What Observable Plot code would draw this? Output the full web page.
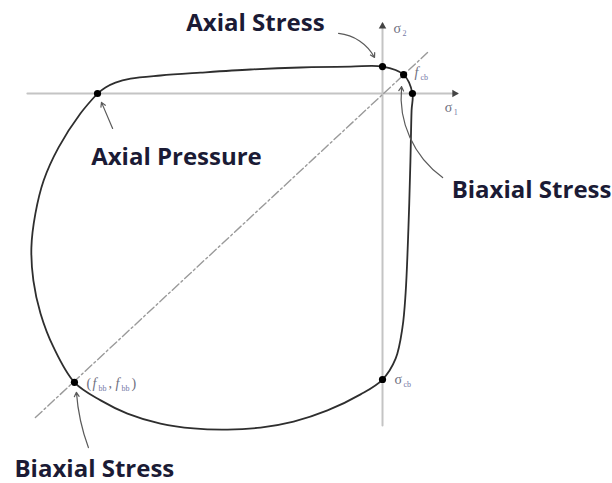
<!DOCTYPE html>
<html>
<head>
<meta charset="utf-8">
<script src="https://cdn.jsdelivr.net/npm/d3@7"></script>
<script src="https://cdn.jsdelivr.net/npm/@observablehq/plot@0.6"></script>
<style>
  html, body { margin: 0; padding: 0; background: #fff; }
  #chart svg { display: block; }
</style>
</head>
<body>
<div id="chart"></div>
<script>
// Biaxial strength envelope of concrete, stresses normalised by the uniaxial strength.
// Traced from uniaxial compression on σ1, over the tension corner, down the σ2 side,
// along the biaxial-compression edge and back up to the start.
const envS1 = [-1.000, -0.972, -0.937, -0.884, -0.779, -0.639, -0.463, -0.288, -0.112, 0.000,
               0.074, 0.105, 0.102, 0.098, 0.091, 0.081, 0.070, 0.046, 0.000,
               -0.077, -0.193, -0.312, -0.428, -0.544, -0.663, -0.779, -0.895, -0.989, -1.081,
               -1.154, -1.200, -1.225, -1.232, -1.218, -1.189, -1.137, -1.060, -1.000];
const envS2 = [0.000, 0.021, 0.038, 0.052, 0.063, 0.073, 0.084, 0.091, 0.094, 0.094,
               0.066, 0.000, -0.059, -0.234, -0.469, -0.699, -0.818, -0.927, -1.000,
               -1.052, -1.108, -1.147, -1.168, -1.175, -1.171, -1.154, -1.119, -1.073, -1.010,
               -0.888, -0.769, -0.654, -0.538, -0.420, -0.304, -0.189, -0.070, 0.000];

// Marked states: uniaxial compression, uniaxial tension, f_cb, tension on σ1, σ_cb, (f_bb, f_bb)
const keyS1 = [-1.000, 0.000, 0.074, 0.105, 0.000, -1.081];
const keyS2 = [0.000, 0.094, 0.066, 0.000, -1.000, -1.010];

// Equal-biaxial loading path
const diagS1 = [-1.218, 0.158];
const diagS2 = [-1.133, 0.143];

// Extent of the σ1 and σ2 axes
const axisS1 = [-1.246, 0.263];
const axisS2 = [-1.161, 0.245];

// Callouts
const labelText = ["Axial Stress", "Axial Pressure", "Biaxial Stress", "Biaxial Stress"];
const labelS1 = [-0.446, -0.723, 0.523, -1.011];
const labelS2 = [0.245, -0.224, -0.339, -1.315];
const pointerFromS1 = [-0.154, -0.947, 0.211, -1.032];
const pointerFromS2 = [0.210, -0.122, -0.294, -1.238];
const pointerToS1 = [-0.028, -0.986, 0.067, -1.074];
const pointerToS2 = [0.126, -0.031, 0.024, -1.045];

// Stress symbols σ with subscript
const sigmaSub = ["2", "1", "cb"];
const sigmaS1 = [0.039, 0.218, 0.042];
const sigmaS2 = [0.227, -0.049, -1.000];
// f_cb label
const fcbS1 = 0.112;
const fcbS2 = 0.073;
// (f_bb, f_bb) label
const bbS1 = -1.039;
const bbS2 = -1.014;

const envelope = envS1.map((s1, i) => ({s1, s2: envS2[i]}));
const keys = keyS1.map((s1, i) => ({s1, s2: keyS2[i]}));
const diagonal = diagS1.map((s1, i) => ({s1, s2: diagS2[i]}));
const labels = labelText.map((t, i) => ({t, s1: labelS1[i], s2: labelS2[i]}));
const pointers = pointerFromS1.map((x1, i) => ({x1, y1: pointerFromS2[i], x2: pointerToS1[i], y2: pointerToS2[i]}));
const sigmas = sigmaSub.map((sub, i) => ({sub, s1: sigmaS1[i], s2: sigmaS2[i]}));

const pointerBends = [28, 0, 30, 8];
const grey = "#6f7080";
const subColor = "#7478a6";
const serif = "'Liberation Serif', 'DejaVu Serif', serif";

// one piece of a typeset symbol label, offset in pixels from its anchor
function piece(data, text, dx, opts = {}) {
  const sub = opts.sub;
  return Plot.text(data, {
    x: "s1", y: "s2", text: () => text,
    fontFamily: serif, fontSize: sub ? 8 : 14, fontStyle: opts.italic ? "italic" : "normal",
    fill: sub ? subColor : grey, textAnchor: "start", lineAnchor: "middle",
    dx, dy: sub ? 5 : 0
  });
}
const fcb = [{s1: fcbS1, s2: fcbS2}];
const fbb = [{s1: bbS1, s2: bbS2}];

const marks = [
  // axes
  Plot.line([{s1: axisS1[0], s2: 0}, {s1: axisS1[1], s2: 0}], {x: "s1", y: "s2", stroke: "#c4c4c4", strokeWidth: 2}),
  Plot.line([{s1: 0, s2: axisS2[0]}, {s1: 0, s2: axisS2[1]}], {x: "s1", y: "s2", stroke: "#c4c4c4", strokeWidth: 2}),
  Plot.dot([{s1: axisS1[1], s2: 0}], {x: "s1", y: "s2", symbol: "triangle2", rotate: 90, r: 3.6, fill: "#444", dx: -3}),
  Plot.dot([{s1: 0, s2: axisS2[1]}], {x: "s1", y: "s2", symbol: "triangle2", r: 3.6, fill: "#444", dy: 3}),
  // equal-biaxial path
  Plot.line(diagonal, {x: "s1", y: "s2", stroke: "#9a9a9a", strokeWidth: 1.4, strokeDasharray: "9,3,2,3"}),
  // envelope
  Plot.line(envelope, {x: "s1", y: "s2", curve: "catmull-rom", stroke: "#2e2e2e", strokeWidth: 1.8}),
  Plot.dot(keys, {x: "s1", y: "s2", r: 3.6, fill: "#000"}),
  // callout pointers
  ...pointers.map((p, i) => Plot.arrow([p], {x1: "x1", y1: "y1", x2: "x2", y2: "y2", bend: pointerBends[i],
    stroke: "#5a5a5a", strokeWidth: 1.2, headLength: 6})),
  // callout text
  Plot.text(labels, {x: "s1", y: "s2", text: "t", fontFamily: "'Open Sans', sans-serif", fontWeight: 700,
    fontSize: 24, fill: "#1b1b35", textAnchor: "middle", lineAnchor: "middle"}),
  // σ symbols
  Plot.text(sigmas, {x: "s1", y: "s2", text: () => "σ", fontFamily: serif, fontSize: 14, fill: grey,
    textAnchor: "start", lineAnchor: "middle"}),
  Plot.text(sigmas, {x: "s1", y: "s2", text: "sub", fontFamily: serif, fontSize: 8, fill: subColor,
    textAnchor: "start", lineAnchor: "middle", dx: 9, dy: 5}),
  // f_cb
  piece(fcb, "f", 0, {italic: true}),
  piece(fcb, "cb", 6, {sub: true}),
  // (f_bb, f_bb)
  piece(fbb, "(", 0),
  piece(fbb, "f", 6, {italic: true}),
  piece(fbb, "bb", 12, {sub: true}),
  piece(fbb, ",", 22),
  piece(fbb, "f", 29, {italic: true}),
  piece(fbb, "bb", 35, {sub: true}),
  piece(fbb, ")", 45)
];

const chart = Plot.plot({
  width: 612,
  height: 483,
  margin: 0,
  x: {domain: [-1.3404, 0.8070], axis: null},
  y: {domain: [-1.3636, 0.3252], axis: null},
  style: {background: "#fff", overflow: "visible"},
  marks
});
document.getElementById("chart").append(chart);
</script>
</body>
</html>
